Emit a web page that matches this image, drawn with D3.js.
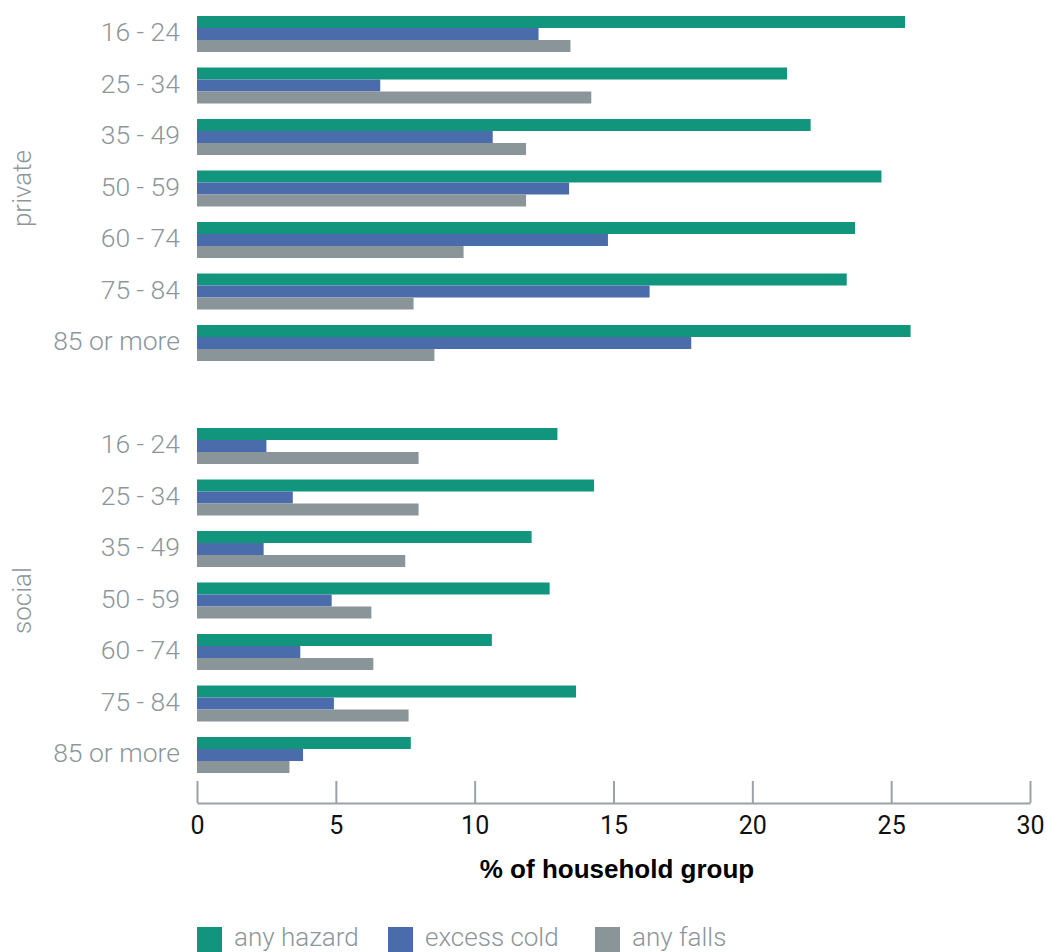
<!DOCTYPE html>
<html>
<head>
<meta charset="utf-8">
<script src="https://cdn.jsdelivr.net/npm/d3@7"></script>
<style>
  html, body { margin: 0; padding: 0; background: #fff; }
  svg { display: block; }
</style>
</head>
<body>
<svg id="chart" width="1047" height="952"></svg>
<script>
const ageGroups = ["16 - 24", "25 - 34", "35 - 49", "50 - 59", "60 - 74", "75 - 84", "85 or more"];
const tenures = ["private", "social"];
const seriesNames = ["any hazard", "excess cold", "any falls"];
const seriesColors = ["#12957d", "#4a6cab", "#8a959a"];
const xTicks = [0, 5, 10, 15, 20, 25, 30];

const privateHazard = [25.5, 21.25, 22.1, 24.65, 23.7, 23.4, 25.7];
const privateCold   = [12.3, 6.6, 10.65, 13.4, 14.8, 16.3, 17.8];
const privateFalls  = [13.45, 14.2, 11.85, 11.85, 9.6, 7.8, 8.55];

const socialHazard = [12.98, 14.3, 12.05, 12.7, 10.62, 13.65, 7.7];
const socialCold   = [2.5, 3.45, 2.4, 4.85, 3.72, 4.93, 3.82];
const socialFalls  = [7.98, 7.98, 7.5, 6.28, 6.35, 7.62, 3.33];

const values = {
  private: [privateHazard, privateCold, privateFalls],
  social: [socialHazard, socialCold, socialFalls]
};

const svg = d3.select("#chart");
const labelGray = "#8c969b";
const font = "'Liberation Sans', Arial, sans-serif";

// rows: private ages, gap, social ages
const rowKeys = [];
tenures.forEach((t, ti) => {
  ageGroups.forEach(a => rowKeys.push(t + "|" + a));
  if (ti === 0) rowKeys.push("gap");
});

const x = d3.scaleLinear().domain([0, 30]).range([197, 1030]);
const y = d3.scaleBand().domain(rowKeys).range([16, 773]).paddingInner(15.5 / 51.5).paddingOuter(0);
const ys = d3.scaleBand().domain(seriesNames).range([0, y.bandwidth()]);

// bars
const rows = svg.append("g");
tenures.forEach(t => {
  ageGroups.forEach((a, ai) => {
    const g = rows.append("g").attr("transform", `translate(0,${y(t + "|" + a)})`);
    seriesNames.forEach((s, si) => {
      const v = values[t][si][ai];
      g.append("rect")
        .attr("x", x(0))
        .attr("y", ys(s))
        .attr("width", x(v) - x(0))
        .attr("height", ys.bandwidth())
        .attr("fill", seriesColors[si]);
    });
    g.append("text")
      .attr("x", 180)
      .attr("y", y.bandwidth() / 2 - 2)
      .attr("dy", "0.35em")
      .attr("text-anchor", "end")
      .attr("font-family", "Roboto, sans-serif")
      .attr("font-weight", 300)
      .attr("font-size", 26.5)
      .attr("fill", labelGray)
      .text(a);
  });
  // tenure label
  const first = y(t + "|" + ageGroups[0]);
  const last = y(t + "|" + ageGroups[ageGroups.length - 1]) + y.bandwidth();
  const cy = (first + last) / 2;
  svg.append("text")
    .attr("transform", `translate(22,${cy}) rotate(-90)`)
    .attr("text-anchor", "middle")
    .attr("dy", "0.35em")
    .attr("font-family", "Roboto, sans-serif")
    .attr("font-weight", 300)
    .attr("font-size", 26)
    .attr("fill", labelGray)
    .text(t);
});

// x axis
const axisY = 803;
const axis = svg.append("g")
  .attr("transform", `translate(0,${axisY})`)
  .call(d3.axisBottom(x).tickValues(xTicks).tickSize(-22).tickPadding(12).tickSizeOuter(0));
axis.select(".domain").attr("stroke", "#9aa2a7").attr("stroke-width", 2);
axis.selectAll(".tick line").attr("stroke", "#9aa2a7").attr("stroke-width", 2);
axis.selectAll(".tick text")
  .attr("font-family", "Roboto, sans-serif")
  .attr("font-weight", 400)
  .attr("font-size", 25)
  .attr("fill", "#111")
  .attr("y", 13)
  .attr("dy", "0.71em");

// axis title
svg.append("text")
  .attr("x", 617)
  .attr("y", 878)
  .attr("text-anchor", "middle")
  .attr("font-family", font)
  .attr("font-weight", 700)
  .attr("font-size", 26)
  .attr("fill", "#000")
  .text("% of household group");

// legend
const legendX = [197, 388, 595];
const legend = svg.append("g");
seriesNames.forEach((s, i) => {
  const g = legend.append("g").attr("transform", `translate(${legendX[i]},927)`);
  g.append("rect").attr("width", 25).attr("height", 25).attr("fill", seriesColors[i]);
  g.append("text")
    .attr("x", 37)
    .attr("y", 19)
    .attr("font-family", "Roboto, sans-serif")
    .attr("font-weight", 300)
    .attr("font-size", 26)
    .attr("fill", labelGray)
    .text(s);
});
</script>
</body>
</html>
